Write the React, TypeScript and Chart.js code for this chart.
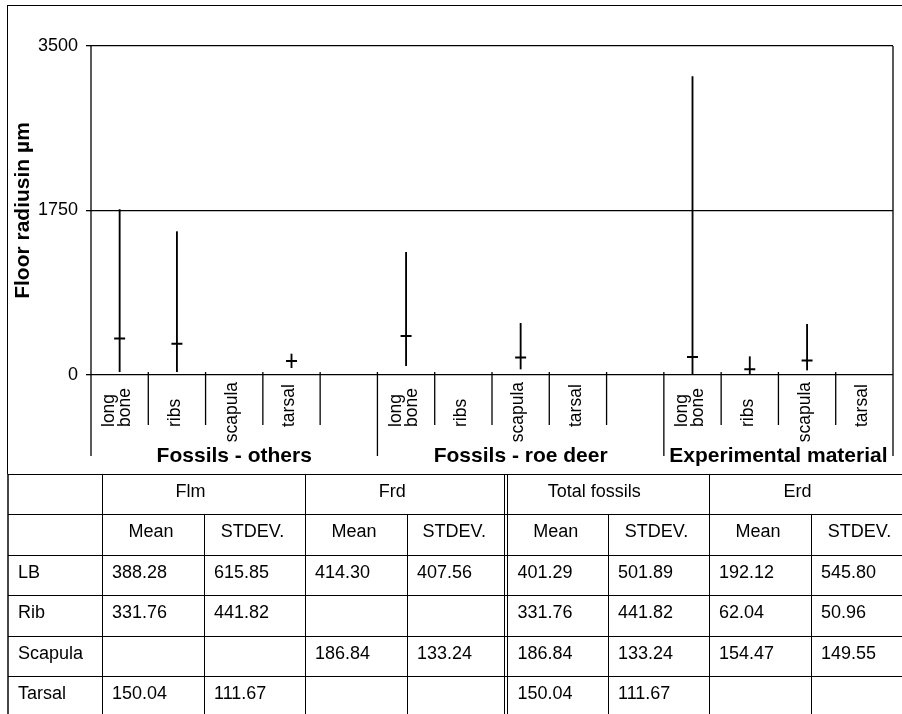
import React, { useEffect, useRef } from 'react';
import { Chart, registerables } from 'chart.js';

Chart.register(...registerables);

// ---------- chart data ----------
const xLabels: string[][] = [
  ['long', 'bone'], ['ribs'], ['scapula'], ['tarsal'], [''],
  ['long', 'bone'], ['ribs'], ['scapula'], ['tarsal'], [''],
  ['long', 'bone'], ['ribs'], ['scapula'], ['tarsal'],
];
const groupLabels = ['Fossils - others', 'Fossils - roe deer', 'Experimental material'];
const groupStarts = [0, 5, 10];
const rangeLow: (number | null)[] = [35, 35, null, 78, null, 99, null, 64, null, null, 0, 0, 53, null];
const rangeHigh: (number | null)[] = [1760, 1525, null, 223, null, 1305, null, 550, null, null, 3174, 195, 539, null];
const means: (number | null)[] = [388.28, 331.76, null, 150.04, null, 414.30, null, 186.84, null, null, 192.12, 62.04, 154.47, null];
const yMin = 0;
const yMax = 3500;
const yStep = 1750;
const yTitle = 'Floor radiusin µm';

// ---------- table data ----------
const tableGroups = ['Flm', 'Frd', 'Total fossils', 'Erd'];
const tableSubHeads = ['Mean', 'STDEV.'];
const rowLabels = ['LB', 'Rib', 'Scapula', 'Tarsal'];
const flmMean = ['388.28', '331.76', '', '150.04'];
const flmSd = ['615.85', '441.82', '', '111.67'];
const frdMean = ['414.30', '', '186.84', ''];
const frdSd = ['407.56', '', '133.24', ''];
const totMean = ['401.29', '331.76', '186.84', '150.04'];
const totSd = ['501.89', '441.82', '133.24', '111.67'];
const erdMean = ['192.12', '62.04', '154.47', ''];
const erdSd = ['545.80', '50.96', '149.55', ''];

const FONT = "'Liberation Sans', Arial, Helvetica, sans-serif";

const decorPlugin = {
  id: 'decor',
  afterDraw(chart: any) {
    const { ctx, chartArea: a, scales } = chart;
    const x = scales.x;
    const y = scales.y;
    const n = xLabels.length;
    const slot = (a.right - a.left) / n;
    const axisY = y.getPixelForValue(0);
    const bottom = axisY + 81;
    ctx.save();
    ctx.strokeStyle = '#000';
    ctx.lineWidth = 1.3;
    const line = (x1: number, y1: number, x2: number, y2: number) => {
      ctx.beginPath();
      ctx.moveTo(x1, y1);
      ctx.lineTo(x2, y2);
      ctx.stroke();
    };
    line(a.left, a.top, a.left, bottom);
    line(a.right, a.top, a.right, bottom);
    for (let i = 1; i < n; i++) {
      const xb = a.left + i * slot;
      const isGroup = groupStarts.includes(i);
      line(xb, axisY - 3, xb, isGroup ? bottom : axisY + 50);
    }
    // category labels
    ctx.fillStyle = '#000';
    ctx.font = `17.5px ${FONT}`;
    ctx.textBaseline = 'middle';
    for (let i = 0; i < n; i++) {
      const cx = x.getPixelForValue(i);
      const lines = xLabels[i];
      const lh = 16;
      lines.forEach((t, j) => {
        if (!t) return;
        const lx = cx - 2 + (j - (lines.length - 1) / 2) * lh;
        const w = ctx.measureText(t).width;
        ctx.save();
        if (w <= 47) {
          ctx.translate(lx, axisY + 52);
          ctx.rotate(-Math.PI / 2);
          ctx.textAlign = 'left';
        } else {
          ctx.translate(lx, axisY + 7);
          ctx.rotate(-Math.PI / 2);
          ctx.textAlign = 'right';
        }
        ctx.fillText(t, 0, 0);
        ctx.restore();
      });
    }
    // group labels
    ctx.font = `bold 21px ${FONT}`;
    ctx.textAlign = 'center';
    ctx.textBaseline = 'alphabetic';
    groupLabels.forEach((g, k) => {
      const s = groupStarts[k];
      const e = k + 1 < groupStarts.length ? groupStarts[k + 1] : n;
      const cx = a.left + ((s + e) / 2) * slot;
      ctx.fillText(g, cx, axisY + 87);
    });
    // y title
    ctx.save();
    ctx.translate(23, (a.top + a.bottom) / 2);
    ctx.rotate(-Math.PI / 2);
    ctx.textAlign = 'center';
    ctx.textBaseline = 'middle';
    ctx.font = `bold 21px ${FONT}`;
    ctx.fillText(yTitle, 0, 0);
    ctx.restore();
    ctx.restore();
  },
};

function ChartCanvas() {
  const ref = useRef<HTMLCanvasElement | null>(null);
  useEffect(() => {
    if (!ref.current) return;
    const chart = new Chart(ref.current, {
      type: 'bar',
      data: {
        labels: xLabels.map((l) => l.join(' ')),
        datasets: [
          {
            type: 'bar',
            data: rangeLow.map((lo, i) => (lo == null || rangeHigh[i] == null ? null : [lo, rangeHigh[i]])) as any,
            backgroundColor: '#000',
            borderWidth: 0,
            barThickness: 1.2,
          } as any,
          {
            type: 'line',
            data: means as any,
            showLine: false,
            pointStyle: 'line',
            pointRadius: 5.5,
            pointHoverRadius: 5.5,
            pointBorderWidth: 2,
            borderColor: '#000',
            backgroundColor: '#000',
          } as any,
        ],
      },
      options: {
        animation: false,
        responsive: false,
        events: [],
        plugins: { legend: { display: false }, tooltip: { enabled: false } },
        layout: { padding: { top: 46, right: 9, left: 0, bottom: 0 } },
        scales: {
          x: {
            type: 'category',
            offset: true,
            grid: { display: false },
            border: { display: false },
            ticks: { display: false },
            afterFit: (s: any) => { s.height = 99; },
          },
          y: {
            min: yMin,
            max: yMax,
            ticks: {
              stepSize: yStep,
              color: '#000',
              font: { size: 18, family: FONT },
              padding: 8,
              callback: (v: any) => String(v),
            },
            grid: { color: '#000', lineWidth: 1.3, tickLength: 5, drawTicks: true },
            border: { display: false },
            afterFit: (s: any) => { s.width = 91; },
          },
        },
      } as any,
      plugins: [decorPlugin],
    });
    return () => chart.destroy();
  }, []);
  return <canvas ref={ref} width={902} height={474} style={{ position: 'absolute', left: 0, top: 0 }} />;
}

const colX = [8, 102, 204, 305, 407, 505.5, 608, 709, 811, 912];
const rowY = [474, 514, 555, 595, 636, 676, 717];

function DataTable() {
  const els: React.ReactNode[] = [];
  const hl = (yy: number, key: string) =>
    els.push(<div key={key} style={{ position: 'absolute', left: 8, top: yy, width: 894, height: 1, background: '#000' }} />);
  const vl = (xx: number, y1: number, y2: number, key: string) =>
    els.push(<div key={key} style={{ position: 'absolute', left: xx, top: y1, width: 1, height: y2 - y1, background: '#000' }} />);
  rowY.forEach((yy, i) => hl(yy, 'h' + i));
  [102, 305, 709].forEach((xx, i) => vl(xx, rowY[0], rowY[6], 'vf' + i));
  vl(504, rowY[0], rowY[6], 'vd1');
  vl(507, rowY[0], rowY[6], 'vd2');
  [204, 407, 608, 811].forEach((xx, i) => vl(xx, rowY[1], rowY[6], 'vs' + i));

  const text = (t: string, l: number, r: number, top: number, align: 'left' | 'center', key: string, padR = 0) =>
    els.push(
      <div
        key={key}
        style={{
          position: 'absolute', left: l, top: top + 7, width: r - l, paddingRight: padR, boxSizing: 'border-box',
          textAlign: align, font: `18px ${FONT}`, lineHeight: '20px', color: '#000',
          paddingLeft: align === 'left' ? 10 : 0, whiteSpace: 'nowrap',
        }}
      >{t}</div>
    );
  const groupCols = [[1, 3], [3, 5], [5, 7], [7, 9]];
  tableGroups.forEach((g, k) => {
    const [s, e] = groupCols[k];
    text(g, colX[s], colX[e], rowY[0], 'center', 'g' + k, 26);
  });
  for (let k = 0; k < 4; k++) {
    tableSubHeads.forEach((h, j) => {
      const c = 1 + k * 2 + j;
      text(h, colX[c] + (c === 5 ? 2 : 0), colX[c + 1], rowY[1], 'center', `s${k}_${j}`, 4);
    });
  }
  const cols = [flmMean, flmSd, frdMean, frdSd, totMean, totSd, erdMean, erdSd];
  rowLabels.forEach((lab, r) => {
    text(lab, colX[0], colX[1], rowY[2 + r], 'left', 'l' + r);
    cols.forEach((arr, c) => {
      text(arr[r], colX[1 + c] + (c === 4 ? 2 : 0), colX[2 + c], rowY[2 + r], 'left', `d${r}_${c}`);
    });
  });
  return <>{els}</>;
}

export default function App() {
  return (
    <div style={{ position: 'absolute', left: 0, top: 0, width: 902, height: 714, overflow: 'hidden', background: '#fff' }}>
      <ChartCanvas />
      <div style={{ position: 'absolute', left: 7, top: 5, width: 895, height: 1, background: '#000' }} />
      <div style={{ position: 'absolute', left: 7, top: 5, width: 1, height: 469, background: '#000' }} />
      <div style={{ position: 'absolute', left: 7, top: 474, width: 2, height: 240, background: '#444' }} />
      <DataTable />
    </div>
  );
}
